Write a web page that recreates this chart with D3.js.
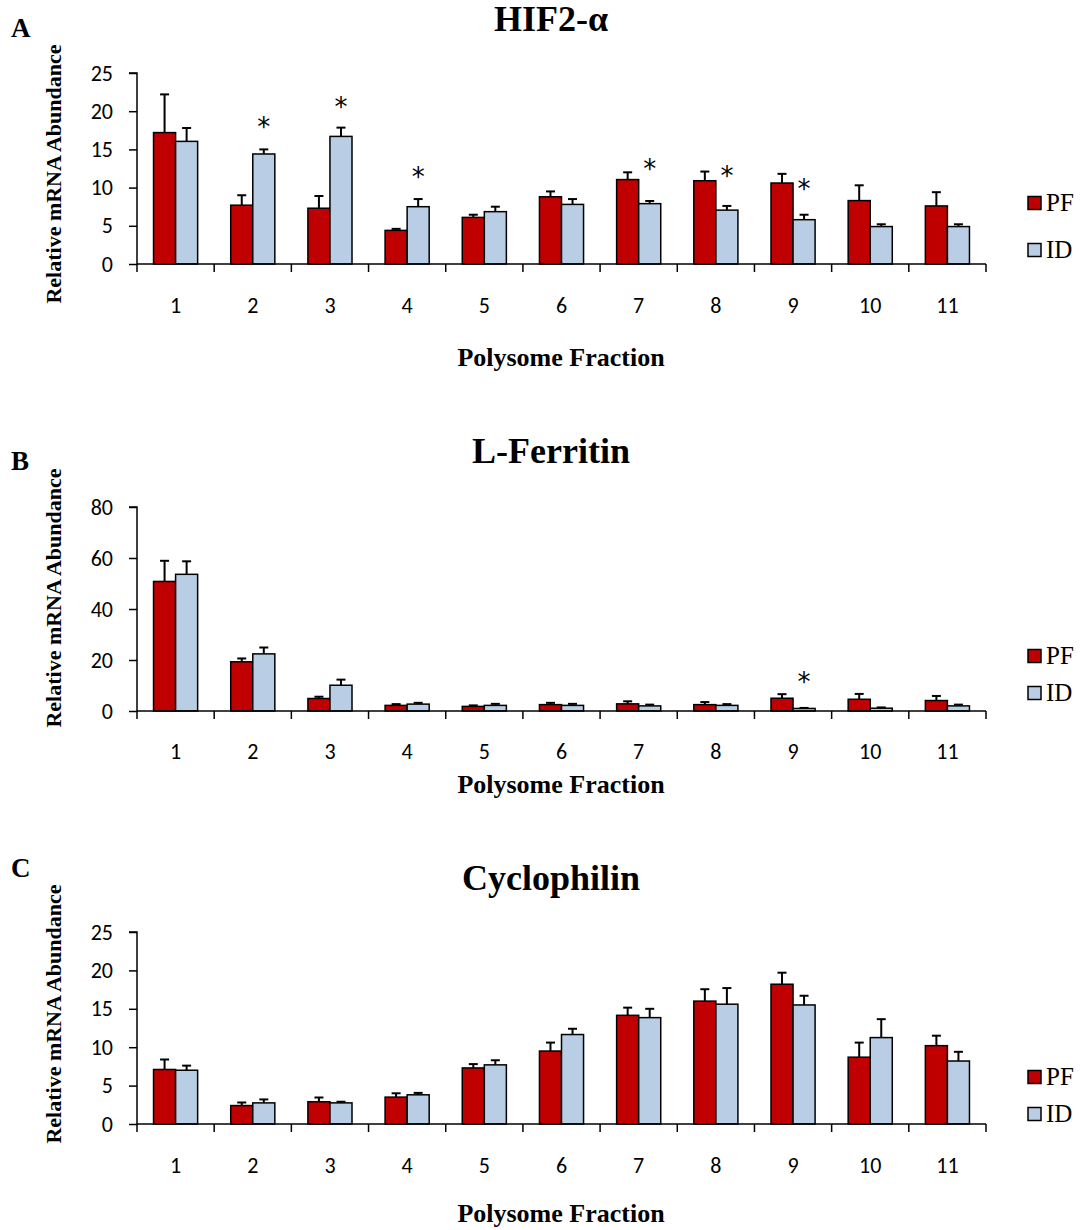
<!DOCTYPE html>
<html>
<head>
<meta charset="utf-8">
<script src="https://cdn.jsdelivr.net/npm/d3@7"></script>
<style>
  body { margin: 0; background: #fff; }
  svg { display: block; }
</style>
</head>
<body>
<svg id="chart" width="1081" height="1230"></svg>
<script>
// ---------- DATA ----------
const fractions = ["1","2","3","4","5","6","7","8","9","10","11"];
const seriesNames = ["PF", "ID"];

// Panel A: HIF2-α
const hifPF    = [17.2, 7.7, 7.3, 4.4, 6.1, 8.8, 11.05, 10.9, 10.6, 8.3, 7.6];
const hifPFerr = [5.0, 1.3, 1.6, 0.2, 0.35, 0.7, 0.95, 1.2, 1.2, 2.0, 1.8];
const hifID    = [16.05, 14.4, 16.7, 7.5, 6.85, 7.8, 7.9, 7.05, 5.8, 4.9, 4.9];
const hifIDerr = [1.75, 0.6, 1.15, 1.0, 0.65, 0.7, 0.35, 0.55, 0.65, 0.3, 0.3];
const hifStars = [null, 18.5, 21.1, 11.9, null, null, 13.0, 12.1, 10.3, null, null];
const hifTicks = [0, 5, 10, 15, 20, 25];

// Panel B: L-Ferritin
const ferPF    = [50.8, 19.3, 4.9, 2.2, 1.8, 2.5, 2.8, 2.5, 5.0, 4.6, 4.1];
const ferPFerr = [8.1, 1.3, 0.7, 0.5, 0.4, 0.7, 1.0, 1.0, 1.6, 2.1, 1.8];
const ferID    = [53.6, 22.4, 10.1, 2.7, 2.2, 2.2, 2.0, 2.2, 1.0, 1.1, 2.0];
const ferIDerr = [5.1, 2.5, 2.2, 0.5, 0.6, 0.6, 0.5, 0.5, 0.2, 0.3, 0.5];
const ferStars = [null, null, null, null, null, null, null, null, 13.0, null, null];
const ferTicks = [0, 20, 40, 60, 80];

// Panel C: Cyclophilin
const cycPF    = [7.1, 2.4, 2.9, 3.5, 7.3, 9.5, 14.15, 16.0, 18.2, 8.7, 10.2];
const cycPFerr = [1.3, 0.4, 0.55, 0.5, 0.5, 1.1, 1.0, 1.55, 1.5, 1.9, 1.3];
const cycID    = [7.0, 2.75, 2.75, 3.8, 7.7, 11.65, 13.85, 15.6, 15.5, 11.25, 8.2];
const cycIDerr = [0.6, 0.45, 0.15, 0.25, 0.6, 0.75, 1.15, 2.1, 1.2, 2.4, 1.2];
const cycStars = [null, null, null, null, null, null, null, null, null, null, null];
const cycTicks = [0, 5, 10, 15, 20, 25];

const panelLetters = ["A", "B", "C"];
const panelTitles = ["HIF2-α", "L-Ferritin", "Cyclophilin"];
const yAxisTitle = "Relative mRNA Abundance";
const xAxisTitle = "Polysome Fraction";

// ---------- LAYOUT ----------
const colors = { PF: "#C00000", ID: "#B9CDE5" };
const plotLeft = 137, plotRight = 986;

const panels = [
  { letter: panelLetters[0], title: panelTitles[0], pf: hifPF, pfErr: hifPFerr, id: hifID, idErr: hifIDerr, stars: hifStars, ticks: hifTicks,
    y0: 264, yTop: 73, letterY: 37, titleY: 31, xLabY: 313, xTitleY: 366, yTitleC: 174, legPF: 203, legID: 250 },
  { letter: panelLetters[1], title: panelTitles[1], pf: ferPF, pfErr: ferPFerr, id: ferID, idErr: ferIDerr, stars: ferStars, ticks: ferTicks,
    y0: 711, yTop: 507, letterY: 470, titleY: 463, xLabY: 759, xTitleY: 793, yTitleC: 598, legPF: 656, legID: 693 },
  { letter: panelLetters[2], title: panelTitles[2], pf: cycPF, pfErr: cycPFerr, id: cycID, idErr: cycIDerr, stars: cycStars, ticks: cycTicks,
    y0: 1124, yTop: 932, letterY: 877, titleY: 890, xLabY: 1173, xTitleY: 1222, yTitleC: 1014, legPF: 1077, legID: 1114 }
];

const svg = d3.select("#chart");
const serif = "'Liberation Serif', 'Times New Roman', serif";
const sans = "Carlito, Calibri, Lato, 'Open Sans', sans-serif";

const x = d3.scaleBand().domain(fractions).range([plotLeft, plotRight]).paddingInner(0).paddingOuter(0);
const barW = x.bandwidth() * 2 / 7;   // gap width 75% -> 2 bars + 0.75 bar gap
const groupPad = (x.bandwidth() - 2 * barW) / 2;

panels.forEach(p => {
  const g = svg.append("g");
  const y = d3.scaleLinear().domain([0, d3.max(p.ticks)]).range([p.y0, p.yTop]);

  // letter
  g.append("text").attr("x", 11).attr("y", p.letterY)
    .attr("font-family", serif).attr("font-weight", "bold").attr("font-size", 27)
    .text(p.letter);
  // title
  g.append("text").attr("x", 551).attr("y", p.titleY).attr("text-anchor", "middle")
    .attr("font-family", serif).attr("font-weight", "bold").attr("font-size", 36)
    .text(p.title);
  // y title
  g.append("text").attr("transform", `translate(61,${p.yTitleC}) rotate(-90)`)
    .attr("text-anchor", "middle")
    .attr("font-family", serif).attr("font-weight", "bold").attr("font-size", 22)
    .text(yAxisTitle);
  // x title
  g.append("text").attr("x", 561).attr("y", p.xTitleY).attr("text-anchor", "middle")
    .attr("font-family", serif).attr("font-weight", "bold").attr("font-size", 26)
    .text(xAxisTitle);

  // bars
  const rows = fractions.map((f, i) => ({ f, i }));
  const series = [
    { name: "PF", vals: p.pf, errs: p.pfErr, off: 0 },
    { name: "ID", vals: p.id, errs: p.idErr, off: 1 }
  ];
  series.forEach(s => {
    const cx = d => x(d.f) + groupPad + s.off * barW + barW / 2;
    // error bars (upper only)
    g.selectAll(null).data(rows).enter().append("line")
      .attr("x1", cx).attr("x2", cx)
      .attr("y1", d => y(s.vals[d.i])).attr("y2", d => y(s.vals[d.i] + s.errs[d.i]))
      .attr("stroke", "#000").attr("stroke-width", 2);
    g.selectAll(null).data(rows).enter().append("line")
      .attr("x1", d => cx(d) - 4.5).attr("x2", d => cx(d) + 4.5)
      .attr("y1", d => y(s.vals[d.i] + s.errs[d.i])).attr("y2", d => y(s.vals[d.i] + s.errs[d.i]))
      .attr("stroke", "#000").attr("stroke-width", 2);
    g.selectAll(null).data(rows).enter().append("rect")
      .attr("x", d => x(d.f) + groupPad + s.off * barW)
      .attr("width", barW)
      .attr("y", d => y(s.vals[d.i]))
      .attr("height", d => p.y0 - y(s.vals[d.i]))
      .attr("fill", colors[s.name])
      .attr("stroke", "#000").attr("stroke-width", 1.5);
  });

  // stars
  g.selectAll(null).data(rows.filter(d => p.stars[d.i] != null)).enter().append("text")
    .attr("x", d => x(d.f) + groupPad + barW * 1.5)
    .attr("y", d => y(p.stars[d.i]) + 13)
    .attr("text-anchor", "middle")
    .attr("font-family", "'DejaVu Sans', sans-serif").attr("font-size", 26)
    .text("*");

  // y axis
  const yAxis = d3.axisLeft(y).tickValues(p.ticks).tickSize(8).tickPadding(16).tickFormat(d3.format("d"));
  const ya = g.append("g").attr("transform", `translate(${plotLeft},0)`).call(yAxis);
  ya.select(".domain").attr("stroke", "#000").attr("stroke-width", 1.5).attr("d", `M-8,${p.yTop}H0V${p.y0}`);
  ya.selectAll(".tick line").attr("stroke", "#000").attr("stroke-width", 1.5);
  ya.selectAll(".tick text").attr("font-family", sans).attr("font-size", 22).attr("fill", "#000");

  // x axis: ticks at category boundaries
  const xa = g.append("g").attr("transform", `translate(0,${p.y0})`);
  xa.append("line").attr("x1", plotLeft).attr("x2", plotRight).attr("y1", 0).attr("y2", 0)
    .attr("stroke", "#000").attr("stroke-width", 1.5);
  const bounds = fractions.map(f => x(f)).concat([plotRight]);
  xa.selectAll(null).data(bounds).enter().append("line")
    .attr("x1", d => d).attr("x2", d => d).attr("y1", 0).attr("y2", 8)
    .attr("stroke", "#000").attr("stroke-width", 1.5);
  g.selectAll(null).data(fractions).enter().append("text")
    .attr("x", d => x(d) + x.bandwidth() / 2)
    .attr("y", p.xLabY)
    .attr("text-anchor", "middle")
    .attr("font-family", sans).attr("font-size", 22)
    .text(d => d);

  // legend
  [["PF", p.legPF], ["ID", p.legID]].forEach(([name, cy]) => {
    g.append("rect").attr("x", 1028).attr("y", cy - 6.5).attr("width", 13).attr("height", 13)
      .attr("fill", colors[name]).attr("stroke", "#000").attr("stroke-width", 1.5);
    g.append("text").attr("x", 1046).attr("y", cy + 8)
      .attr("font-family", serif).attr("font-size", 25)
      .text(name);
  });
});
</script>
</body>
</html>
